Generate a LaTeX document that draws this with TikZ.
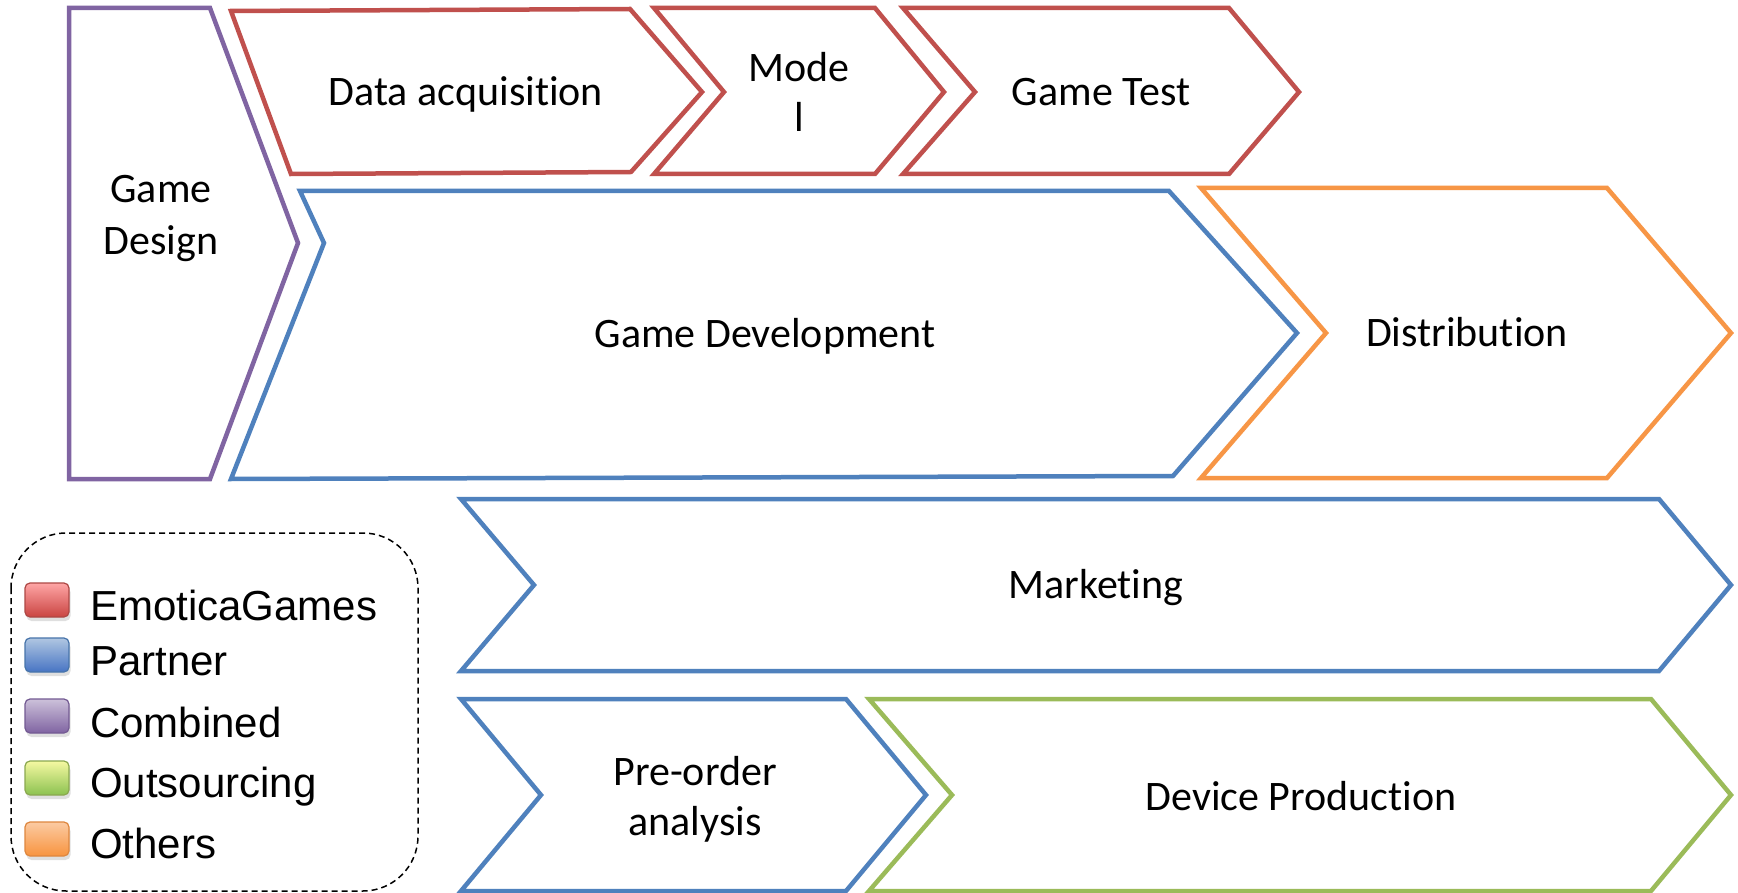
\documentclass[tikz,border=0pt]{standalone}
\usepackage{fontspec}
\setmainfont{Carlito}[Ligatures={NoCommon,NoContextual,NoRare},RawFeature={-liga;-clig;-calt;-dlig}]
\newfontfamily\legendfont{Liberation Sans}
\usetikzlibrary{shadows}
% Office palette
\definecolor{cRed}{HTML}{C0504D}
\definecolor{cBlue}{HTML}{4F81BD}
\definecolor{cPurple}{HTML}{8064A2}
\definecolor{cGreen}{HTML}{9BBB59}
\definecolor{cOrange}{HTML}{F79646}
\begin{document}
\begin{tikzpicture}[x=1pt,y=-1pt,
  stage/.style={line width=4.5pt, line join=miter, fill=white},
  lbl/.style={anchor=base, inner sep=0pt, font=\fontsize{42}{51}\selectfont},
  legtxt/.style={anchor=base west, inner sep=0pt, font=\legendfont\fontsize{42}{48}\selectfont},
  swatch/.style={line width=1.2pt, rounded corners=5pt,
    drop shadow={shadow xshift=1.5pt, shadow yshift=-4pt, opacity=0.25}},
  legbox/.style={line width=1.5pt, dash pattern=on 6pt off 4pt, rounded corners=55pt}]

\fill[white] (0,0) rectangle (1738,893);
\useasboundingbox (0,0) rectangle (1738,893);

% process stages
\draw[stage, draw=cPurple] (69,8) -- (210,8) -- (298,243) -- (210,479) -- (69,479) -- cycle;
\draw[stage, draw=cRed] (231,11) -- (630,9) -- (702,92) -- (631,172) -- (291,174) -- cycle;
\draw[stage, draw=cRed] (654,8) -- (875,8) -- (944,92) -- (875,174) -- (654,174) -- (724,92) -- cycle;
\draw[stage, draw=cRed] (903,8) -- (1229,8) -- (1299,92) -- (1229,174) -- (903,174) -- (975,92) -- cycle;
\draw[stage, draw=cBlue] (300,191) -- (1169,191) -- (1297,333) -- (1173,476) -- (231,479) -- (324,243) -- cycle;
\draw[stage, draw=cOrange] (1201,188) -- (1607,188) -- (1731,333) -- (1607,478) -- (1201,478) -- (1326,333) -- cycle;
\draw[stage, draw=cBlue] (461,499) -- (1659,499) -- (1731,585) -- (1659,671) -- (461,671) -- (534,585) -- cycle;
\draw[stage, draw=cBlue] (461,699) -- (846,699) -- (926,795) -- (846,891) -- (461,891) -- (541,795) -- cycle;
\draw[stage, draw=cGreen] (869,699) -- (1651,699) -- (1731,795) -- (1651,891) -- (869,891) -- (952,795) -- cycle;

% stage labels
\node[lbl] (design1) at (161,203) {Game};
\node[lbl] (design2) at (161,255) {Design};
\node[lbl] (acq) at (466,106) {Data acquisition};
\node[lbl] (model1) at (799,82) {Mode};
\node[lbl] (model2) at (799,132) {l};
\node[lbl] (test) at (1101,106) {Game Test};
\node[lbl] (dev) at (765,348) {Game Development};
\node[lbl] (dist) at (1467,347) {Distribution};
\node[lbl] (mkt) at (1096,598) {Marketing};
\node[lbl] (pre1) at (695,785) {Pre-order};
\node[lbl] (pre2) at (695,835) {analysis};
\node[lbl] (dev2) at (1301,810) {Device Production};

% legend
\draw[legbox] (11,533) rectangle (418,891);
\draw[swatch, draw=cRed!90!black, top color=red!35!white, bottom color=cRed!85!red] (25,583) rectangle (69,617);
\draw[swatch, draw=cBlue!90!black, top color=cBlue!45!white, bottom color=cBlue!90!blue] (25,638) rectangle (69,672);
\draw[swatch, draw=cPurple!90!black, top color=cPurple!40!white, bottom color=cPurple] (25,699) rectangle (69,733);
\draw[swatch, draw=cGreen!90!black, top color=cGreen!25!yellow!40!white, bottom color=cGreen!90!green] (25,761) rectangle (69,795);
\draw[swatch, draw=cOrange!90!black, top color=cOrange!50!white, bottom color=cOrange!90!orange] (25,822) rectangle (69,856);
\node[legtxt] (lg1) at (90,620) {EmoticaGames};
\node[legtxt] (lg2) at (90,675) {Partner};
\node[legtxt] (lg3) at (90,737) {Combined};
\node[legtxt] (lg4) at (90,797) {Outsourcing};
\node[legtxt] (lg5) at (90,858) {Others};
\end{tikzpicture}
\end{document}
